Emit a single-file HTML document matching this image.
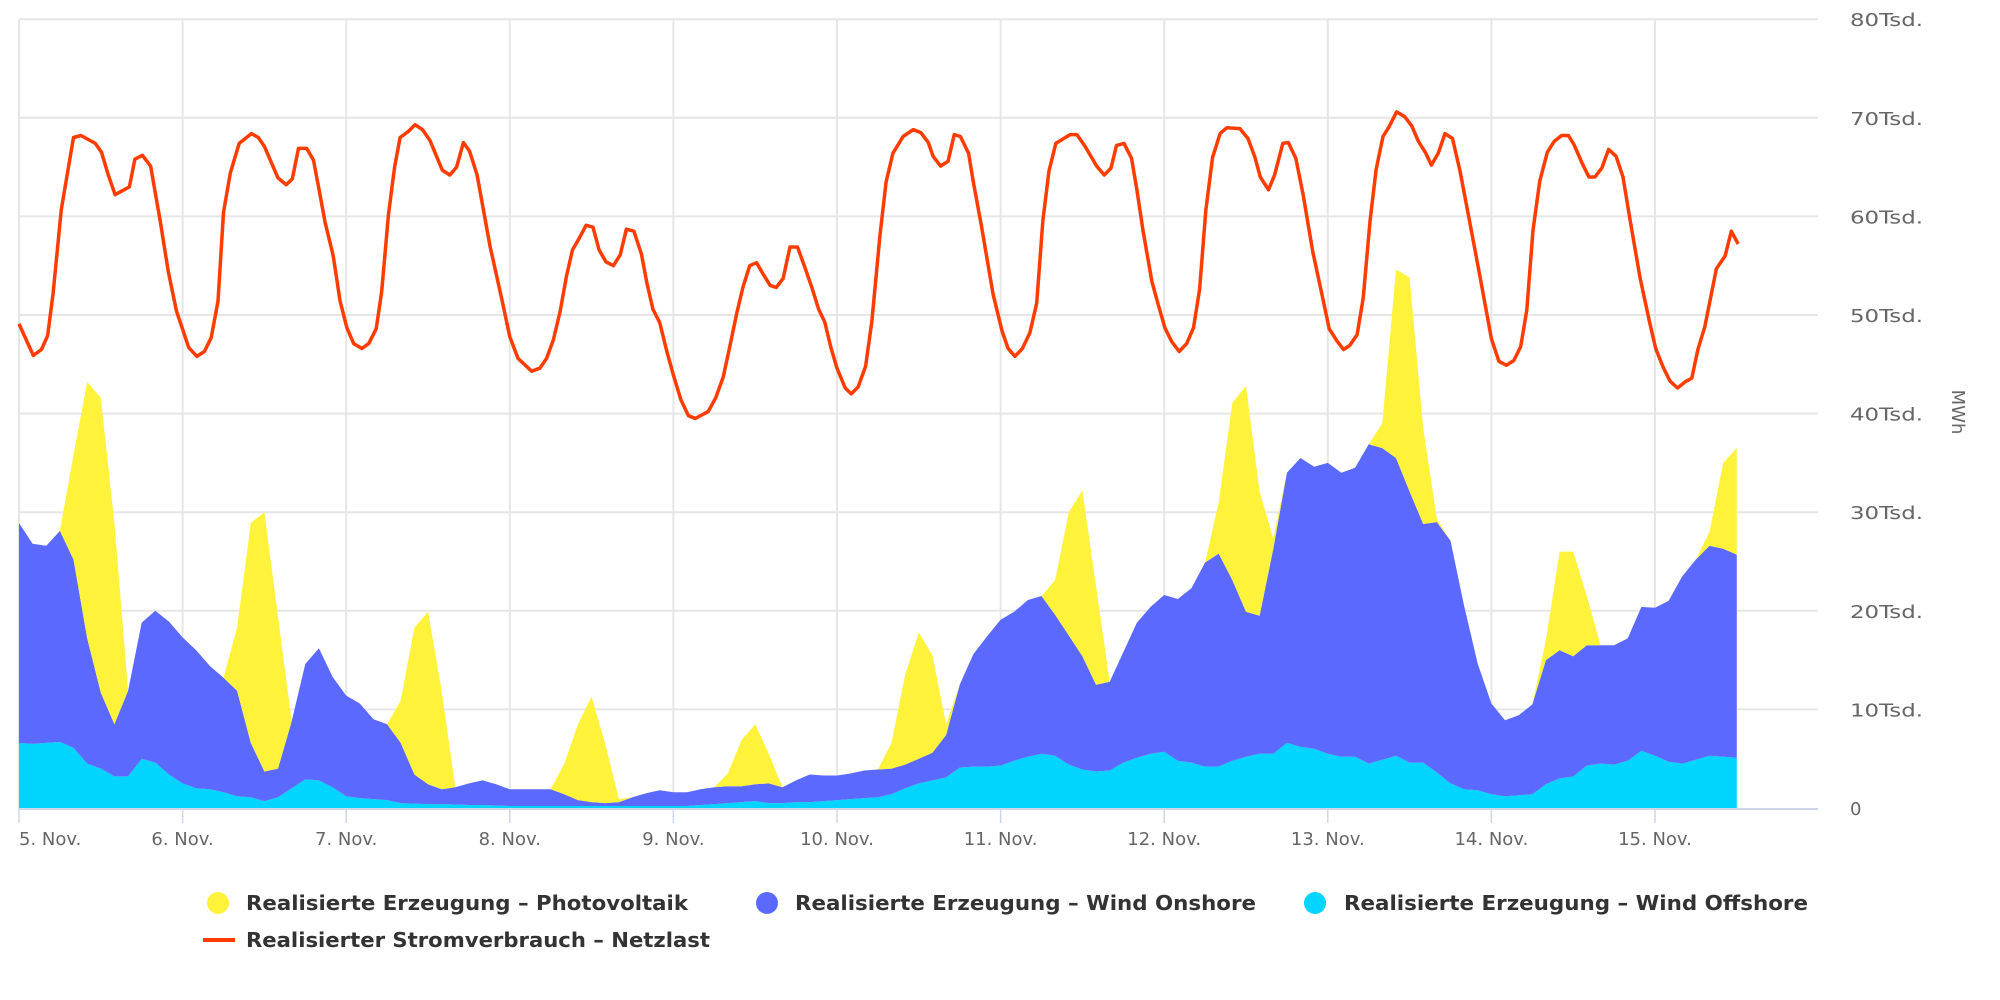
<!DOCTYPE html>
<html><head><meta charset="utf-8"><style>
html,body{margin:0;padding:0;background:#fff;width:2000px;height:1000px;overflow:hidden}
svg{display:block;font-family:"DejaVu Sans","Liberation Sans",sans-serif}
</style></head><body>
<svg id="chart" width="2000" height="1000" viewBox="0 0 2000 1000" xmlns="http://www.w3.org/2000/svg">
<g id="grid"></g>
<g id="areas"></g>
<g id="lines"></g>
<g id="axes"></g>
<text x="1957" y="412" transform="rotate(90 1957 412)" text-anchor="middle" dominant-baseline="middle" font-size="18" fill="#666">MWh</text>
<g font-size="20" font-weight="bold" fill="#333">
 <g><circle cx="218" cy="903" r="11" fill="#fff23a"/><text x="246" y="910" textLength="442" lengthAdjust="spacingAndGlyphs">Realisierte Erzeugung – Photovoltaik</text></g>
 <g><circle cx="767" cy="903" r="11" fill="#5c69ff"/><text x="795" y="910" textLength="461" lengthAdjust="spacingAndGlyphs">Realisierte Erzeugung – Wind Onshore</text></g>
 <g><circle cx="1315" cy="903" r="11" fill="#00d4ff"/><text x="1344" y="910" textLength="464" lengthAdjust="spacingAndGlyphs">Realisierte Erzeugung – Wind Offshore</text></g>
 <g><rect x="203" y="938" width="32" height="4" fill="#ff3c00"/><text x="246" y="947" textLength="464" lengthAdjust="spacingAndGlyphs">Realisierter Stromverbrauch – Netzlast</text></g>
</g>
</svg>
<script>
// stacked series: 2-hourly samples from 5 Nov 00:00 (thousand MWh)
const offshore = [
6.6,6.5,6.6,6.7,6.1,4.5,4.0,3.2,3.2,5.0,4.6,3.4,
2.5,2.0,1.9,1.6,1.2,1.1,0.7,1.1,2.0,2.9,2.8,2.1,
1.2,1.0,0.9,0.8,0.5,0.45,0.4,0.4,0.35,0.3,0.3,0.25,
0.2,0.2,0.2,0.2,0.2,0.2,0.2,0.2,0.2,0.2,0.2,0.2,
0.2,0.2,0.3,0.4,0.5,0.6,0.7,0.5,0.5,0.6,0.6,0.7,
0.8,0.9,1.0,1.1,1.4,2.0,2.5,2.8,3.1,4.1,4.2,4.2,
4.3,4.8,5.2,5.5,5.3,4.4,3.9,3.7,3.8,4.6,5.1,5.5,
5.7,4.8,4.6,4.2,4.2,4.8,5.2,5.5,5.5,6.6,6.2,6.0,
5.5,5.2,5.2,4.5,4.9,5.3,4.6,4.6,3.6,2.5,1.9,1.8,
1.4,1.2,1.3,1.4,2.4,3.0,3.2,4.3,4.5,4.4,4.8,5.8,
5.3,4.7,4.5,4.9,5.3,5.2,5.1];
const onshore = [
22.3,20.3,20.0,21.4,19.1,12.7,7.7,5.3,8.7,13.8,15.4,15.5,
14.8,14.0,12.5,11.6,10.7,5.5,3.0,2.9,6.8,11.7,13.4,11.2,
10.2,9.6,8.1,7.7,6.1,2.95,2.0,1.5,1.75,2.2,2.5,2.15,
1.7,1.7,1.7,1.7,1.2,0.6,0.4,0.3,0.4,0.9,1.3,1.6,
1.4,1.4,1.6,1.7,1.7,1.6,1.7,2.0,1.6,2.2,2.8,2.6,
2.5,2.6,2.8,2.8,2.6,2.4,2.5,2.8,4.3,8.4,11.4,13.2,
14.8,15.1,15.9,16.0,14.3,13.1,11.5,8.8,9.0,11.2,13.7,14.9,
15.9,16.4,17.7,20.7,21.6,18.3,14.7,14.0,20.8,27.4,29.3,28.6,
29.5,28.8,29.3,32.4,31.6,30.2,27.5,24.2,25.4,24.6,18.6,12.8,
9.2,7.7,8.1,9.1,12.6,13.0,12.2,12.2,12.0,12.1,12.4,14.6,
15.0,16.3,19.0,20.3,21.3,21.1,20.6];
const photovoltaik = [
0,0,0,0,10.6,26,29.9,20.4,0,0,0,0,
0,0,0,0,6.4,22.3,26.3,15.4,0,0,0,0,
0,0,0,0,4.3,14.9,17.5,10,0,0,0,0,
0,0,0,0,3.1,7.7,10.7,6,0.3,0,0,0,
0,0,0,0,1.3,4.7,6.1,3,0,0,0,0,
0,0,0,0,2.6,9.1,12.8,9.9,1.1,0,0,0,
0,0,0,0,3.5,12.5,16.8,10,0,0,0,0,
0,0,0,0,5.2,18,22.9,12.6,1,0,0,0,
0,0,0,0,2.5,19.1,21.7,9.7,0.3,0,0,0,
0,0,0,0,2,10,10.6,5,0,0,0,0,
0,0,0,0,1.4,8.7,10.8];
const stackStepHours = 2;
// load line (hour offset, thousand MWh)
const loadHours = [0,2.1,3.3,4.2,5,6.2,8,9.1,11.2,12.1,13.1,14.1,16.2,17,18.1,19.3,20.7,21.9,23.1,24.9,26.1,27.2,28.2,29.2,30,31,32.3,34.1,35.1,36,37,38,39.2,40.1,41,42.2,43.2,44,44.9,46.1,47.1,48.1,49.1,50.3,51.3,52.4,53.2,54.2,55.1,55.9,57.1,58.1,59.2,60.3,61.3,62.1,63.2,64.2,65.2,66.1,67.2,69.1,70.8,72,73.2,75.2,76.4,77.4,78.4,79.4,80.3,81.2,82.2,83.2,84.2,85.1,86.1,87.2,88.2,89.1,90.2,91.3,92.1,93,94,95,96,97.1,98.2,99.2,101.1,102.2,103.3,104.3,105.3,106.2,107.2,108.2,109.2,110.2,111.1,112.1,113.1,114.2,115.3,116.3,117.3,118.2,119.1,120,121.2,122.1,123.1,124.2,125.1,126.3,127.2,128.2,129.7,131.2,132.3,133.4,134.1,135.2,136.3,137.2,138.1,139.3,140,141.2,142.9,144.2,145.1,146.1,147.2,148.3,149.3,150.2,151.1,152.1,154.2,155.2,156.4,158.1,159.2,160.2,161,162.1,163.2,164,164.9,166.2,167.1,168.1,169.1,170.2,171.3,172.3,173.2,174.1,175.1,176.2,177.2,179.1,180.3,181.3,182.1,183.3,184.2,185.4,186.2,187.3,188.4,189.8,191.1,192.2,193.3,194.3,195.2,196.3,197.2,198.2,199.1,200.1,201,202.1,203.3,204.3,205.3,206.3,207.2,208.2,209.2,210.3,211.4,212.8,214.3,216,217.1,218.2,219.3,220.3,221.2,222.1,223.1,224.2,225.2,226.3,227.3,228.1,229.3,230.3,231.2,232.2,233.2,234.3,235.3,236.3,237.8,239.2,240.1,241.2,242.2,243.3,244.4,245.4,246.3,247.3,249,250.3,251.2,252.2];
const loadValues = [49.1,45.9,46.5,47.9,52.2,60.7,68,68.2,67.4,66.5,64.2,62.2,63,65.8,66.2,65.1,59.6,54.4,50.4,46.7,45.8,46.3,47.7,51.4,60.4,64.4,67.4,68.4,68,67.1,65.5,63.9,63.2,63.8,66.9,66.9,65.7,62.8,59.4,56,51.4,48.7,47.1,46.6,47.1,48.6,52.3,60.2,65,68,68.6,69.3,68.8,67.7,66,64.7,64.2,65,67.5,66.6,64.2,57,51.7,47.8,45.6,44.3,44.6,45.6,47.5,50.4,53.9,56.6,57.8,59.1,58.9,56.6,55.4,55,56.1,58.7,58.5,56.2,53.3,50.6,49.2,46.4,43.9,41.4,39.8,39.5,40.2,41.6,43.7,46.9,50.2,52.8,55,55.3,54.1,53,52.8,53.7,56.9,56.9,54.8,52.8,50.6,49.3,46.7,44.6,42.6,42,42.7,44.8,49.3,58,63.5,66.4,68.1,68.8,68.5,67.5,66.1,65.1,65.6,68.3,68.1,66.4,63.5,59,52.1,48.4,46.6,45.8,46.6,48.2,51.2,59.6,64.6,67.4,68.3,68.3,67.1,65.1,64.2,64.9,67.2,67.4,65.9,62.7,58.5,53.4,51.1,48.7,47.3,46.3,47.1,48.7,52.6,60.6,66,68.4,69,68.9,67.9,66,64,62.7,64.2,67.4,67.5,65.9,62.1,56.4,52.2,48.6,47.4,46.5,46.9,48,51.7,59.6,64.8,68.1,69.1,70.6,70.1,69.2,67.6,66.5,65.2,66.4,68.4,67.9,64.6,59.5,54,47.6,45.3,44.9,45.4,46.8,50.5,58.6,63.6,66.5,67.6,68.2,68.2,67.3,65.4,64,64,64.9,66.8,66.1,64,59.8,53.8,49.3,46.6,44.7,43.3,42.6,43.2,43.6,46.5,48.8,54.7,56,58.5,57.2];
const dayLabels = ["5. Nov.","6. Nov.","7. Nov.","8. Nov.","9. Nov.","10. Nov.","11. Nov.","12. Nov.","13. Nov.","14. Nov.","15. Nov."];
const yTickValues = [0,10,20,30,40,50,60,70,80];
const yTickLabels = ["0","10Tsd.","20Tsd.","30Tsd.","40Tsd.","50Tsd.","60Tsd.","70Tsd.","80Tsd."];

const NS="http://www.w3.org/2000/svg";
const X0=19, DAYW=163.6, Y0=808, YK=9.86, XR=1818;
function xs(h){return X0+h*DAYW/24;}
function ys(v){return Y0-v*YK;}
function mk(tag,attrs,parent){const e=document.createElementNS(NS,tag);for(const k in attrs)e.setAttribute(k,attrs[k]);parent.appendChild(e);return e;}

const grid=document.getElementById('grid'), axes=document.getElementById('axes');
yTickValues.forEach((v,i)=>{
  if(v>0){const l=mk('line',{x1:X0,x2:XR,y1:ys(v),y2:ys(v),stroke:'#e6e6e6','stroke-width':2},grid);
  
  }
  const t=mk('text',{x:1850,y:ys(v)+7,'font-size':18,fill:'#666'},axes);
  if(v>0){t.setAttribute('textLength',73);t.setAttribute('lengthAdjust','spacingAndGlyphs');}
  t.textContent=yTickLabels[i];
  
  
});
for(let d=0;d<=10;d++){
  const l=mk('line',{x1:xs(d*24),x2:xs(d*24),y1:ys(80),y2:Y0,stroke:'#e6e6e6','stroke-width':2},grid);
  
  
}
// areas
const areas=document.getElementById('areas');
const n=offshore.length;
const base=new Array(n).fill(0);
function band(vals,color,name){
  const top=vals.map((v,i)=>base[i]+v);
  let d='M'+xs(0)+','+ys(top[0]);
  for(let i=1;i<n;i++) d+='L'+xs(i*stackStepHours).toFixed(1)+','+ys(top[i]).toFixed(1);
  for(let i=n-1;i>=0;i--) d+='L'+xs(i*stackStepHours).toFixed(1)+','+ys(base[i]).toFixed(1);
  d+='Z';
  const p=mk('path',{d:d,fill:color},areas);
  
  
  for(let i=0;i<n;i++) base[i]=top[i];
}
band(offshore,'#00d4ff','area-wind-offshore');
band(onshore,'#5c69ff','area-wind-onshore');
band(photovoltaik,'#fff23a','area-photovoltaik');
// load line
const lines=document.getElementById('lines');
let pts=loadHours.map((h,i)=>xs(h).toFixed(1)+','+ys(loadValues[i]).toFixed(1)).join(' ');
const pl=mk('polyline',{points:pts,fill:'none',stroke:'#ff3c00','stroke-width':3.5,'stroke-linejoin':'round'},lines);


// x axis
const ax=mk('line',{x1:X0,x2:XR,y1:Y0+1,y2:Y0+1,stroke:'#ccd6eb','stroke-width':2},axes);


dayLabels.forEach((lab,d)=>{
  const x=xs(d*24);
  const tk=mk('line',{x1:x,x2:x,y1:Y0,y2:Y0+15,stroke:'#ccd6eb','stroke-width':1.5},axes);
  
  
  const t=mk('text',{x:d===0?X0:x,y:Y0+37,'font-size':18,fill:'#666','text-anchor':d===0?'start':'middle'},axes);
  t.textContent=lab;
  
  
});
</script>
</body></html>
